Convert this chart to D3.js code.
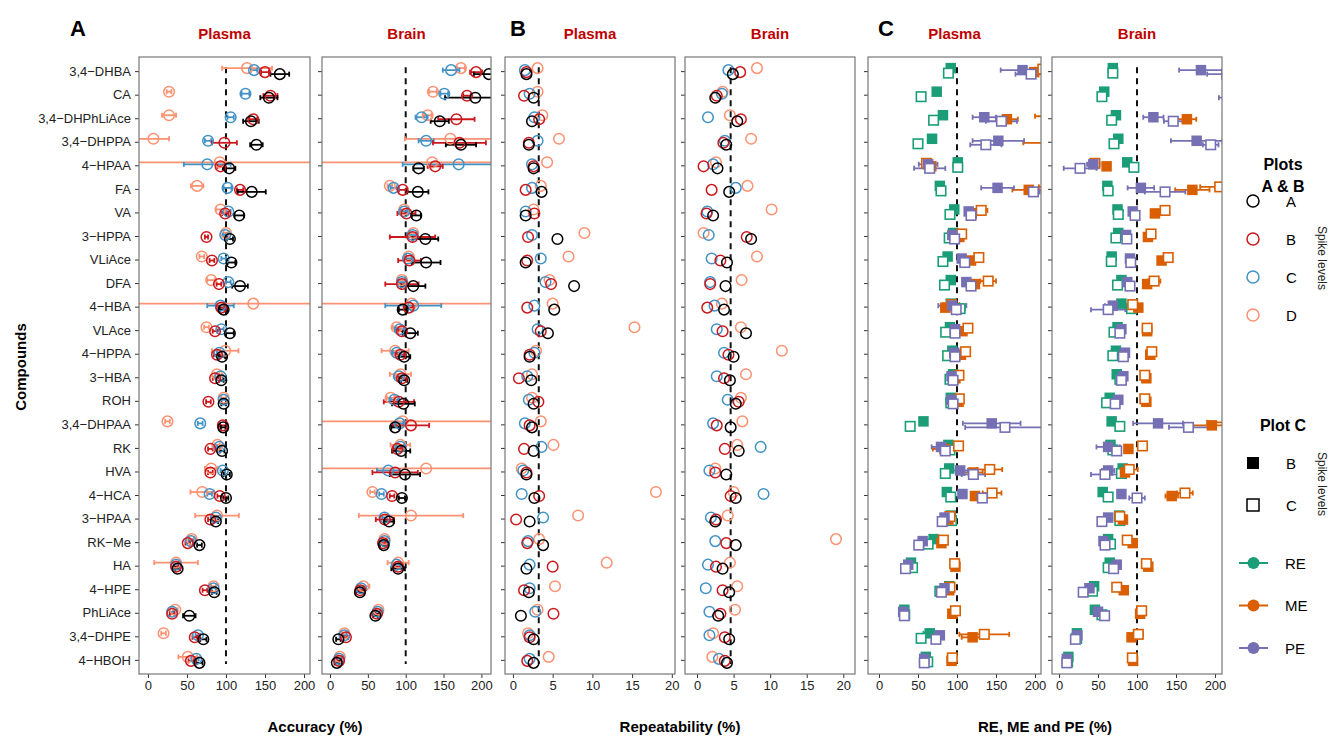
<!DOCTYPE html>
<html>
<head>
<meta charset="utf-8">
<script src="https://cdn.jsdelivr.net/npm/d3@7"></script>
<style>
  body { margin: 0; background: #fff; }
  svg text { font-family: "Liberation Sans", Arial, sans-serif; }
</style>
</head>
<body>
<div class="d3Chart"></div>
<script>
// compounds, top to bottom
var compounds = ["3,4\u2212DHBA", "CA", "3,4\u2212DHPhLiAce", "3,4\u2212DHPPA", "4\u2212HPAA", "FA", "VA", "3\u2212HPPA",
  "VLiAce", "DFA", "4\u2212HBA", "VLAce", "4\u2212HPPA", "3\u2212HBA", "ROH", "3,4\u2212DHPAA", "RK", "HVA", "4\u2212HCA",
  "3\u2212HPAA", "RK\u2212Me", "HA", "4\u2212HPE", "PhLiAce", "3,4\u2212DHPE", "4\u2212HBOH"];

var spikeLevels = ["A", "B", "C", "D"];
var metrics = ["RE", "ME", "PE"];
var accTicks = [0, 50, 100, 150, 200];
var repTicks = [0, 5, 10, 15, 20];
var recTicks = [0, 50, 100, 150, 200];

// ---- Plot A : accuracy (%) ----
var accPlasmaA = [169, 155, 132, 139, 104, 133, 117, 105, 107, 118, 97, 105, 95, 94, 97, 96.5, 95, 101, 100, 87, 66, 38, 85, 53, 71, 66];
var accPlasmaB = [150, 157, 135, 98, 93, 118, 99, 75, 82, 91, 94, 86, 88.5, 86, 77.5, 96, 80, 80, 92, 80, 51, 36, 73, 31, 60, 55];
var accPlasmaC = [136, 125, 106, 77, 76, 102, 103, 99, 97, 103, 93, 94, 91.5, 93, 97, 67, 91.5, 96, 79, 87, 55, 36, 84, 31, 64, 62];
var accPlasmaD = [127, 27, 27, 7, 92, 63, 93, 100, 69, 81, 135, 75, 99, 88.5, 97, 25, 89, 81, 69.5, 88.5, 56, 36, 84, 35, 20, 51];
var accPlasmaAErr = [12, 11, 10, 8, 8, 18, 6, 4, 5, 10, 5, 5, 4, 3, 3, 3, 3, 4, 3, 3, 3, 3, 3, 8, 4, 4];
var accPlasmaBErr = [5, 9, 5, 16, 4, 4, 4, 2, 3, 3, 4, 3, 4, 3, 3, 4, 3, 3, 3, 3, 3, 3, 3, 3, 3, 3];
var accPlasmaCErr = [4, 5, 4, 4, 30, 5, 3, 3, 3, 3, 17, 3, 3, 3, 3, 3, 3, 3, 3, 3, 3, 3, 3, 3, 3, 3];
var accPlasmaDErr = [32, 3, 9, 20, 300, 8, 6, 3, 3, 5, 300, 3, 17, 3, 3, 3, 3, 8, 15, 28, 3, 28, 3, 3, 3, 12];

var accBrainA = [210, 192, 145, 173, 117, 116, 114, 126, 127, 110, 96, 106, 98, 98, 97, 86, 94, 99, 95, 78, 71, 90, 39.5, 60, 11, 9];
var accBrainB = [193, 181, 167, 171, 139, 96, 101, 109, 105, 95, 104, 95, 93, 95, 91, 107, 89, 86, 82, 72.5, 70, 90, 40, 62, 21, 12];
var accBrainC = [160, 151, 121, 127, 170, 84, 98, 109, 103, 95, 110, 92, 88, 91, 85, 92, 93, 77, 68, 72, 72, 88, 41, 63, 19, 12];
var accBrainD = [173, 136, 129, 159, 135, 79, 98, 110, 104, 95, 108, 88, 86, 93, 80, 96, 93, 127, 56, 107, 72, 90, 44, 64, 19, 13];
var accBrainAErr = [20, 40, 12, 20, 7, 14, 6, 17, 19, 16, 5, 10, 8, 4, 15, 5, 12, 20, 4, 6, 5, 9, 5, 3, 3, 3];
var accBrainBErr = [8, 5, 24, 35, 10, 5, 12, 30, 15, 22, 5, 5, 5, 5, 20, 24, 5, 30, 3, 12, 3, 5, 3, 3, 3, 3];
var accBrainCErr = [11, 5, 8, 10, 74, 4, 4, 5, 5, 5, 37, 5, 5, 5, 5, 5, 5, 15, 3, 3, 3, 5, 3, 3, 3, 3];
var accBrainDErr = [5, 5, 5, 60, 300, 3, 5, 5, 5, 5, 300, 5, 18, 14, 5, 300, 13, 300, 3, 69, 3, 14, 8, 3, 3, 3];

// ---- Plot B : repeatability (%) ----
var repPlasmaA = [1.7, 2.6, 2.4, 2.0, 2.6, 3.6, 1.6, 5.6, 1.6, 7.7, 5.2, 4.4, 2.1, 2.3, 2.6, 2.4, 2.6, 1.7, 2.7, 2.1, 3.8, 1.7, 2.0, 1.0, 2.6, 2.6];
var repPlasmaB = [1.7, 1.4, 3.3, 2.0, 2.6, 1.6, 2.7, 1.9, 1.8, 4.8, 1.8, 3.5, 2.1, 0.75, 3.2, 2.1, 1.4, 1.7, 3.3, 0.4, 1.8, 5.0, 1.4, 5.1, 2.1, 1.8];
var repPlasmaC = [1.5, 2.1, 2.7, 3.1, 2.4, 2.4, 1.6, 2.4, 3.5, 4.1, 2.7, 3.1, 2.7, 1.8, 2.0, 1.5, 3.6, 1.3, 1.1, 3.8, 1.9, 2.1, 2.1, 2.8, 2.1, 2.1];
var repPlasmaD = [3.1, 3.1, 3.7, 5.8, 4.3, 3.5, 2.6, 9.0, 7.0, 4.6, 5.0, 15.3, 2.9, 2.4, 2.4, 3.5, 5.1, 1.1, 18.0, 8.2, 3.3, 11.8, 5.3, 3.1, 1.9, 4.5];

var repBrainA = [4.9, 2.5, 5.5, 4.0, 2.8, 4.4, 2.2, 7.4, 4.1, 3.9, 3.7, 6.7, 5.0, 4.5, 5.3, 4.6, 5.7, 4.0, 5.3, 2.5, 5.3, 3.5, 4.4, 2.9, 4.4, 4.1];
var repBrainB = [5.9, 2.7, 6.0, 3.6, 0.9, 2.0, 1.3, 6.8, 3.2, 1.8, 1.4, 3.5, 4.3, 3.7, 5.7, 2.7, 3.8, 2.5, 4.6, 2.6, 4.0, 2.6, 3.5, 3.2, 3.8, 3.8];
var repBrainC = [4.3, 3.4, 1.5, 3.8, 2.2, 5.3, 1.4, 1.6, 2.0, 1.8, 2.4, 2.7, 3.7, 2.7, 4.2, 2.2, 8.7, 1.7, 9.1, 1.9, 2.5, 1.5, 1.2, 1.7, 1.7, 3.0];
var repBrainD = [8.2, 3.5, 4.5, 7.4, 2.6, 6.9, 10.2, 0.9, 8.2, 6.1, 3.4, 6.0, 11.6, 6.7, 6.0, 6.2, 5.5, 2.5, 5.0, 4.2, 19.0, 4.5, 5.5, 5.2, 2.2, 2.1];
var repRefPlasma = 3.25;
var repRefBrain = 4.6;

// ---- Plot C : RE, ME and PE (%), spike level B (filled) and C (open) ----
var cPlasmaREB = [92, 74, 82, 68, 101, 78, 96.5, 95, 88, 92, 92, 91, 94, 95, 92, 57, 89, 90, 87, 92, 70, 41, 90, 32.5, 65, 60];
var cPlasmaREC = [89, 54, 70, 50, 101, 79.5, 91, 90, 82, 84, 104, 85.5, 88, 91, 92, 40, 91, 85, 92, 93, 63, 43, 78, 33, 54, 62.5];
var cPlasmaMEB = [199, 250, 164, 235, 67, 192, 119, 103, 118, 123, 85, 107, 105, 98, 102, 222, 84, 121, 123, 89, 80, 98, 90, 94, 120, 93];
var cPlasmaMEC = [210, 250, 240, 260, 61, 215, 131, 106, 128, 140, 93, 114, 111, 102.5, 103, 250, 102, 142, 145, 91, 82.5, 97, 91, 98, 135, 94];
var cPlasmaPEB = [184, 250, 135, 153, 63, 152, 115, 94, 106, 112, 94, 97.5, 96.5, 93, 93, 144.5, 79.5, 104, 107, 84, 56, 37.5, 84, 31, 78, 58];
var cPlasmaPEC = [195, 250, 157, 137, 65, 198, 118, 97, 110, 118, 99, 97.5, 97.5, 95, 95, 161.5, 85, 121, 132.5, 81, 51, 34, 80, 32.5, 73, 58];
var cPlasmaREBErr = [4, 3, 3, 3, 3, 5, 3, 3, 3, 3, 3, 3, 3, 3, 3, 3, 3, 3, 3, 3, 3, 3, 3, 3, 8, 3];
var cPlasmaRECErr = [3, 2, 3, 2, 3, 3, 4, 3, 4, 3, 6, 3, 4, 3, 3, 2, 4, 2, 3, 3, 3, 2, 3, 3, 3, 3];
var cPlasmaMEBErr = [10, 0, 14, 50, 3, 21, 5, 3, 3, 4, 3, 3, 3, 3, 3, 12, 15, 12, 5, 3, 4, 3, 3, 3, 14, 3];
var cPlasmaMECErr = [10, 0, 40, 20, 3, 10, 8, 3, 3, 10, 10, 3, 5, 3, 3, 10, 3, 16, 12, 3, 3, 3, 3, 3, 32, 3];
var cPlasmaPEBErr = [28, 0, 15, 33, 12, 21, 3, 3, 3, 3, 18, 3, 3, 3, 3, 37, 12, 10, 3, 3, 3, 3, 3, 3, 3, 3];
var cPlasmaPECErr = [20, 0, 20, 20, 20, 8, 3, 3, 3, 3, 5, 3, 3, 3, 3, 51, 4, 15, 5, 3, 3, 3, 3, 3, 3, 3];

var cBrainREB = [69, 58, 73, 76, 87.5, 62, 75, 76, 67.5, 80, 80, 75, 73, 74, 65, 67.5, 66, 81.6, 56, 77, 63, 65, 45, 46, 23, 12];
var cBrainREC = [69, 55, 67.5, 70.5, 96, 63, 76, 73, 67, 75, 93, 70.5, 69, 78, 61, 78, 69, 80, 63, 78, 66, 63, 43, 55, 22.6, 11];
var cBrainMEB = [240, 240, 164, 230, 61, 171, 123, 114, 131.5, 113, 101.7, 113, 117, 112, 112, 196, 89, 84.6, 144.5, 82, 94.5, 114.5, 83, 104, 93, 95];
var cBrainMEC = [250, 250, 230, 245, 46, 206, 136, 118, 140, 122, 94.5, 113, 119, 110, 110, 220, 107, 90, 161.5, 78, 87.5, 112, 74, 106, 101.7, 94];
var cBrainPEB = [182, 240, 121, 176.5, 44, 105, 94.5, 86, 91, 87.5, 69, 80, 84.6, 82.5, 76, 127, 63, 63, 80, 63, 57, 74, 39, 50, 23.5, 10];
var cBrainPEC = [215, 240, 146.5, 194.5, 27, 136, 97.5, 87, 92, 91, 63, 78, 82.5, 80, 72, 166, 74, 59, 100, 55, 59, 70, 31, 58.5, 21, 10];
var cBrainREBErr = [3, 3, 3, 3, 3, 3, 3, 3, 3, 3, 3, 3, 3, 3, 3, 3, 3, 3, 3, 3, 3, 3, 3, 3, 3, 3];
var cBrainRECErr = [3, 3, 3, 4, 3, 3, 3, 3, 3, 3, 3, 3, 3, 3, 3, 3, 3, 3, 3, 3, 3, 3, 3, 3, 3, 3];
var cBrainMEBErr = [0, 0, 12, 20, 4, 22, 5, 3, 3, 3, 3, 3, 3, 3, 3, 30, 3, 3, 8, 3, 3, 3, 3, 3, 3, 3];
var cBrainMECErr = [0, 0, 20, 20, 3, 25, 5, 3, 3, 8, 3, 3, 3, 3, 3, 30, 3, 11, 10, 3, 3, 3, 3, 3, 6, 3];
var cBrainPEBErr = [28, 0, 13, 33, 8, 17, 3, 3, 3, 3, 10, 3, 3, 3, 3, 32, 15, 8, 3, 3, 3, 3, 3, 3, 3, 3];
var cBrainPECErr = [25, 35, 12, 10, 21, 26, 4, 3, 3, 3, 22, 3, 3, 3, 3, 25, 4, 18, 10, 3, 3, 3, 3, 3, 3, 3];

// 畫布
var width = 1336;
var height = 736;
var svg = d3
  .select(".d3Chart")
  .append("svg")
  .attr("width", width)
  .attr("height", height)
  .style("background-color", "#ffffff");

var levelColor = d3.scaleOrdinal().domain(spikeLevels).range(["#000000", "#cb181d", "#4292c6", "#fc9272"]);
var levelOffset = d3.scaleOrdinal().domain(spikeLevels).range([3, 1, -1, -3]);
var metricColor = d3.scaleOrdinal().domain(metrics).range(["#1b9e77", "#d95f02", "#7570b3"]);

var panelTop = 57;
var panelBottom = 674;
var y = d3.scalePoint().domain(compounds).range([panelTop, panelBottom]).padding(0.6);

// panels: frame in pixels, data domain, ticks, reference line
var panels = [
  { id: "aP", x0: 139, x1: 310, domain: [-11.5, 207.7], ticks: accTicks, ref: 100, title: "Plasma" },
  { id: "aB", x0: 322, x1: 491, domain: [-10.6, 212.7], ticks: accTicks, ref: 100, title: "Brain" },
  { id: "bP", x0: 505, x1: 675, domain: [-1.0, 20.4], ticks: repTicks, ref: repRefPlasma, title: "Plasma" },
  { id: "bB", x0: 685, x1: 855, domain: [-1.64, 21.6], ticks: repTicks, ref: repRefBrain, title: "Brain" },
  { id: "cP", x0: 868, x1: 1041, domain: [-14.1, 207.7], ticks: recTicks, ref: 100, title: "Plasma" },
  { id: "cB", x0: 1052, x1: 1222, domain: [-9, 209], ticks: recTicks, ref: 100, title: "Brain" },
];
panels.forEach(function (p) {
  p.x = d3.scaleLinear().domain(p.domain).range([p.x0, p.x1]);
});

var defs = svg.append("defs");

// frames, axes, dashed lines
panels.forEach(function (p, i) {
  defs.append("clipPath").attr("id", "clip-" + p.id)
    .append("rect").attr("x", p.x0).attr("y", panelTop).attr("width", p.x1 - p.x0).attr("height", panelBottom - panelTop);

  var g = svg.append("g").attr("class", "panel panel-" + p.id);
  p.g = g;

  // x axis
  var xAxis = svg.append("g")
    .attr("transform", "translate(0," + panelBottom + ")")
    .call(d3.axisBottom(p.x).tickValues(p.ticks).tickSize(4).tickPadding(3));
  xAxis.select(".domain").remove();
  xAxis.selectAll("line").attr("stroke", "#333");
  xAxis.selectAll("text").attr("fill", "#222").style("font-size", "13px");

  // y axis ticks (labels only in the first panel)
  var yAxis = svg.append("g")
    .attr("transform", "translate(" + p.x0 + ",0)")
    .call(d3.axisLeft(y).tickSize(4).tickPadding(4).tickFormat(i === 0 ? null : ""));
  yAxis.select(".domain").remove();
  yAxis.selectAll("line").attr("stroke", "#333");
  yAxis.selectAll("text").attr("fill", "#222").style("font-size", "13px");

  // reference line
  g.append("line")
    .attr("x1", p.x(p.ref)).attr("x2", p.x(p.ref))
    .attr("y1", y(compounds[0]) - 4).attr("y2", panelBottom - 10)
    .attr("stroke", "#111").attr("stroke-width", 2).attr("stroke-dasharray", "6,5");

  // strip title
  svg.append("text")
    .attr("x", (p.x0 + p.x1) / 2).attr("y", 39)
    .attr("text-anchor", "middle")
    .attr("fill", "#c00000").style("font-size", "15px").style("font-weight", "bold")
    .text(p.title);
});

// 誤差線
function drawErrors(g, p, vals, errs, off, color, capH, sw) {
  var rows = compounds.map(function (c, i) {
    return { c: c, v: vals[i], e: errs ? errs[i] : 0 };
  }).filter(function (d) { return d.e > 0; });
  var eg = g.append("g").attr("clip-path", "url(#clip-" + p.id + ")")
    .attr("stroke", color).attr("stroke-width", sw).attr("fill", "none");
  eg.selectAll("line.bar").data(rows).enter().append("line").attr("class", "bar")
    .attr("x1", function (d) { return p.x(d.v - d.e); })
    .attr("x2", function (d) { return p.x(d.v + d.e); })
    .attr("y1", function (d) { return y(d.c) + off; })
    .attr("y2", function (d) { return y(d.c) + off; });
  [-1, 1].forEach(function (s) {
    eg.selectAll("line.cap" + s).data(rows).enter().append("line")
      .attr("x1", function (d) { return p.x(d.v + s * d.e); })
      .attr("x2", function (d) { return p.x(d.v + s * d.e); })
      .attr("y1", function (d) { return y(d.c) + off - capH; })
      .attr("y2", function (d) { return y(d.c) + off + capH; });
  });
}

// Plot A and B: open circles per spike level
function drawCircles(p, series) {
  // draw D first so A sits on top
  series.slice().reverse().forEach(function (s) {
    if (s.errs) drawErrors(p.g, p, s.vals, s.errs, levelOffset(s.level), levelColor(s.level), 2.5, 1.8);
  });
  series.slice().reverse().forEach(function (s) {
    p.g.append("g").attr("clip-path", "url(#clip-" + p.id + ")")
      .selectAll("circle").data(s.vals).enter().append("circle")
      .attr("cx", function (d) { return p.x(d); })
      .attr("cy", function (d, i) { return y(compounds[i]) + levelOffset(s.level); })
      .attr("r", 5.3)
      .attr("fill", "none")
      .attr("stroke", levelColor(s.level))
      .attr("stroke-width", 1.5);
  });
}

drawCircles(panels[0], [
  { level: "A", vals: accPlasmaA, errs: accPlasmaAErr },
  { level: "B", vals: accPlasmaB, errs: accPlasmaBErr },
  { level: "C", vals: accPlasmaC, errs: accPlasmaCErr },
  { level: "D", vals: accPlasmaD, errs: accPlasmaDErr },
]);
drawCircles(panels[1], [
  { level: "A", vals: accBrainA, errs: accBrainAErr },
  { level: "B", vals: accBrainB, errs: accBrainBErr },
  { level: "C", vals: accBrainC, errs: accBrainCErr },
  { level: "D", vals: accBrainD, errs: accBrainDErr },
]);
drawCircles(panels[2], [
  { level: "A", vals: repPlasmaA },
  { level: "B", vals: repPlasmaB },
  { level: "C", vals: repPlasmaC },
  { level: "D", vals: repPlasmaD },
]);
drawCircles(panels[3], [
  { level: "A", vals: repBrainA },
  { level: "B", vals: repBrainB },
  { level: "C", vals: repBrainC },
  { level: "D", vals: repBrainD },
]);

// Plot C: squares, filled = spike B, open = spike C
var sqOffset = { REB: -3, REC: 2, MEB: 1, MEC: -2, PEB: -1, PEC: 3 };
function drawSquares(p, series) {
  series.forEach(function (s) {
    drawErrors(p.g, p, s.vals, s.errs, sqOffset[s.metric + s.spike], metricColor(s.metric), 2.5, 1.8);
  });
  series.forEach(function (s) {
    var filled = s.spike === "B";
    var size = filled ? 10.5 : 9.5;
    p.g.append("g").attr("clip-path", "url(#clip-" + p.id + ")")
      .selectAll("rect").data(s.vals).enter().append("rect")
      .attr("x", function (d) { return p.x(d) - size / 2; })
      .attr("y", function (d, i) { return y(compounds[i]) + sqOffset[s.metric + s.spike] - size / 2; })
      .attr("width", size).attr("height", size)
      .attr("fill", filled ? metricColor(s.metric) : "#ffffff")
      .attr("stroke", metricColor(s.metric))
      .attr("stroke-width", filled ? 0 : 1.6);
  });
}

drawSquares(panels[4], [
  { metric: "RE", spike: "B", vals: cPlasmaREB, errs: cPlasmaREBErr },
  { metric: "RE", spike: "C", vals: cPlasmaREC, errs: cPlasmaRECErr },
  { metric: "ME", spike: "B", vals: cPlasmaMEB, errs: cPlasmaMEBErr },
  { metric: "ME", spike: "C", vals: cPlasmaMEC, errs: cPlasmaMECErr },
  { metric: "PE", spike: "B", vals: cPlasmaPEB, errs: cPlasmaPEBErr },
  { metric: "PE", spike: "C", vals: cPlasmaPEC, errs: cPlasmaPECErr },
]);
drawSquares(panels[5], [
  { metric: "RE", spike: "B", vals: cBrainREB, errs: cBrainREBErr },
  { metric: "RE", spike: "C", vals: cBrainREC, errs: cBrainRECErr },
  { metric: "ME", spike: "B", vals: cBrainMEB, errs: cBrainMEBErr },
  { metric: "ME", spike: "C", vals: cBrainMEC, errs: cBrainMECErr },
  { metric: "PE", spike: "B", vals: cBrainPEB, errs: cBrainPEBErr },
  { metric: "PE", spike: "C", vals: cBrainPEC, errs: cBrainPECErr },
]);

// panel borders on top
panels.forEach(function (p) {
  svg.append("rect")
    .attr("x", p.x0).attr("y", panelTop)
    .attr("width", p.x1 - p.x0).attr("height", panelBottom - panelTop)
    .attr("fill", "none").attr("stroke", "#777").attr("stroke-width", 1.2);
});

// plot letters
[["A", 78], ["B", 518], ["C", 886]].forEach(function (d) {
  svg.append("text").attr("x", d[1]).attr("y", 36).attr("text-anchor", "middle")
    .style("font-size", "22px").style("font-weight", "bold").attr("fill", "#000").text(d[0]);
});

// axis titles
[["Accuracy (%)", 315], ["Repeatability (%)", 680], ["RE, ME and PE (%)", 1045]].forEach(function (d) {
  svg.append("text").attr("x", d[1]).attr("y", 732).attr("text-anchor", "middle")
    .style("font-size", "15px").style("font-weight", "bold").attr("fill", "#000").text(d[0]);
});
svg.append("text")
  .attr("transform", "translate(26,367) rotate(-90)")
  .attr("text-anchor", "middle")
  .style("font-size", "15px").style("font-weight", "bold").attr("fill", "#000")
  .text("Compounds");

// ---- legends ----
var leg = svg.append("g").attr("class", "legend");
function legTitle(lines, yy) {
  lines.forEach(function (t, i) {
    leg.append("text").attr("x", 1283).attr("y", yy + i * 22).attr("text-anchor", "middle")
      .style("font-size", "16px").style("font-weight", "bold").attr("fill", "#000").text(t);
  });
}
function spikeNote(cy) {
  leg.append("text").attr("transform", "translate(1318," + cy + ") rotate(90)")
    .attr("text-anchor", "middle").style("font-size", "12px").attr("fill", "#222").text("Spike levels");
}

legTitle(["Plots", "A & B"], 170);
var legLevelY = d3.scalePoint().domain(spikeLevels).range([201, 315]);
spikeLevels.forEach(function (l) {
  leg.append("circle").attr("cx", 1253).attr("cy", legLevelY(l)).attr("r", 6)
    .attr("fill", "none").attr("stroke", levelColor(l)).attr("stroke-width", 1.5);
  leg.append("text").attr("x", 1286).attr("y", legLevelY(l) + 5.5)
    .style("font-size", "15px").attr("fill", "#000").text(l);
});
spikeNote(258);

legTitle(["Plot C"], 431);
["B", "C"].forEach(function (s, i) {
  var cy = 463 + i * 42;
  leg.append("rect").attr("x", 1247).attr("y", cy - 6).attr("width", 12).attr("height", 12)
    .attr("fill", s === "B" ? "#000" : "#fff").attr("stroke", "#000").attr("stroke-width", s === "B" ? 0 : 1.5);
  leg.append("text").attr("x", 1286).attr("y", cy + 5.5)
    .style("font-size", "15px").attr("fill", "#000").text(s);
});
spikeNote(484);

var legMetricY = d3.scalePoint().domain(metrics).range([563, 648]);
metrics.forEach(function (m) {
  var cy = legMetricY(m);
  leg.append("line").attr("x1", 1239).attr("x2", 1268).attr("y1", cy).attr("y2", cy)
    .attr("stroke", metricColor(m)).attr("stroke-width", 2);
  leg.append("circle").attr("cx", 1253.5).attr("cy", cy).attr("r", 6).attr("fill", metricColor(m));
  leg.append("text").attr("x", 1285).attr("y", cy + 5.5)
    .style("font-size", "15px").attr("fill", "#000").text(m);
});
</script>
</body>
</html>
